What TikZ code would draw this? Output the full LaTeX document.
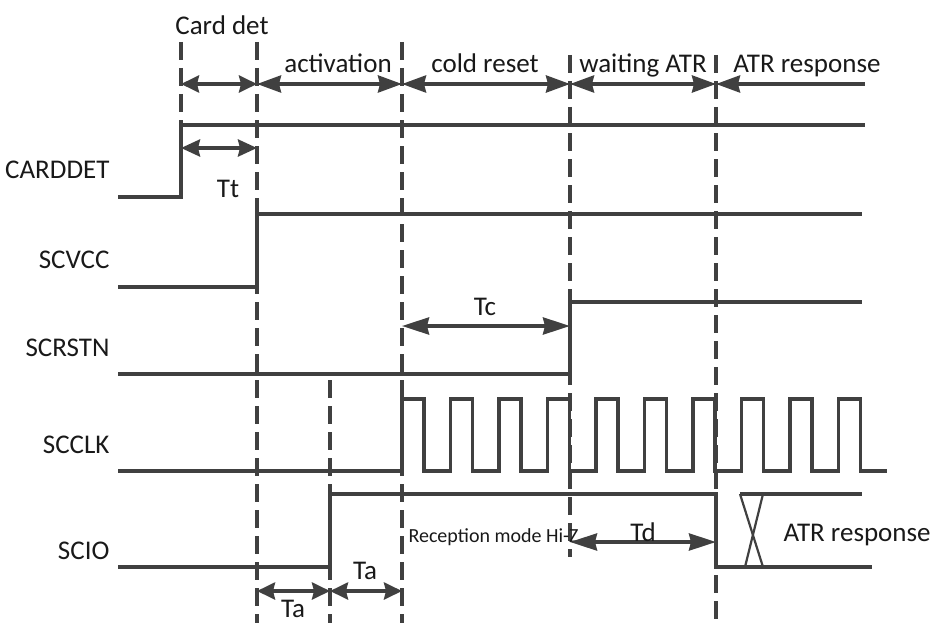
\documentclass[tikz,border=0pt]{standalone}
\usepackage{fontspec}
\setmainfont{Carlito}
\definecolor{wavegray}{RGB}{64, 64, 64}
\definecolor{textdark}{RGB}{25, 25, 25}
\usetikzlibrary{
    arrows.meta,
    positioning,
    calc
}

\tikzset{
    sig/.style={line width=3.6pt, wavegray},
    marker/.style={line width=3.2pt, wavegray, dash pattern=on 18pt off 8pt},
    dimarrow/.style={line width=3.6pt, wavegray,
        {Stealth[length=#1,width=17pt,inset=2pt]}-{Stealth[length=#1,width=17pt,inset=2pt]}},
    dimarrow/.default=22pt,
    leftarrow/.style={line width=3.6pt, wavegray, {Stealth[length=24pt,width=17pt,inset=2pt]}-},
    lbl/.style={font=\fontsize{27}{30}\selectfont, textdark, anchor=base},
    siglbl/.style={lbl, anchor=base east},
    smalllbl/.style={font=\fontsize{20}{22}\selectfont, textdark, anchor=base west}
}

\begin{document}
\begin{tikzpicture}[x=1pt, y=-1pt]
    \useasboundingbox (0,0) rectangle (933,623);

    % Phase markers
    \coordinate (m0) at (181,42);
    \coordinate (m1) at (257,42);
    \coordinate (m2) at (402,42);
    \coordinate (m3) at (570,55);
    \coordinate (m4) at (716,55);
    \coordinate (m5) at (330,380);
    \coordinate (rend) at (865,84);
    \draw[marker] (m0) -- (181,125);
    \draw[marker] (m1) -- (257,623);
    \draw[marker] (m2) -- (402,623);
    \draw[marker] (m3) -- (570,557);
    \draw[marker] (m4) -- (716,623);
    \draw[marker] (m5) -- (330,623);

    % Phases
    \node[lbl] (cardlbl) at (222,35) {Card det};
    \node[lbl] (actlbl) at (338,73) {activation};
    \node[lbl] (resetlbl) at (485,73) {cold reset};
    \node[lbl] (waitlbl) at (643,73) {waiting ATR};
    \node[lbl] (atrlbl) at (807,73) {ATR response};
    \draw[dimarrow=18pt] (m0 |- 0,84) -- (m1 |- 0,84);
    \draw[dimarrow=24pt] (m1 |- 0,84) -- (m2 |- 0,84);
    \draw[dimarrow=24pt] (m2 |- 0,84) -- (m3 |- 0,84);
    \draw[dimarrow=24pt] (m3 |- 0,84) -- (m4 |- 0,84);
    \draw[leftarrow] (m4 |- 0,84) -- (rend);

    % CARDDET
    \node[siglbl] (carddet) at (113,178) {CARDDET};
    \draw[sig] (118,197) -- (181,197) -- (181,125) -- (865,125);
    \draw[dimarrow=19pt] (m0 |- 0,148) -- (m1 |- 0,148);
    \node[lbl] (tt) at (228,197) {Tt};

    % SCVCC
    \node[siglbl] (scvcc) at (113,268) {SCVCC};
    \draw[sig] (118,287) -- (257,287) -- (257,214) -- (862,214);

    % SCRSTN
    \node[siglbl] (scrstn) at (113,356) {SCRSTN};
    \draw[sig] (118,374) -- (570,374) -- (570,302) -- (862,302);
    \draw[dimarrow=27pt] (m2 |- 0,326) -- (m3 |- 0,326);
    \node[lbl] (tc) at (485,315) {Tc};

    % SCCLK
    \node[siglbl] (scclk) at (113,453) {SCCLK};
    \draw[sig] (118,471) foreach \i in {0,...,9} {
        -- ({402+48.5*\i},471) -- ({402+48.5*\i},399)
        -- ({424+48.5*\i},399) -- ({424+48.5*\i},471)
    } -- (887,471);

    % SCIO
    \node[siglbl] (scio) at (113,559) {SCIO};
    \draw[sig] (118,567) -- (330,567) -- (330,494) -- (716,494) -- (716,567) -- (872,567);
    \draw[sig] (740,494) -- (862,494);
    \draw[sig, line width=2.2pt] (740,494) -- (763,567);
    \draw[sig, line width=2.2pt] (763,494) -- (745,567);
    \node[smalllbl] (himode) at (405,542) {Reception mode Hi-Z};
    \draw[dimarrow=27pt] (m3 |- 0,542) -- (m4 |- 0,542);
    \node[lbl] (td) at (643,541) {Td};
    \node[lbl, anchor=base west] (atrresp) at (780,541) {ATR response};

    % Activation delays
    \draw[dimarrow=18pt] (m1 |- 0,591) -- (m5 |- 0,591);
    \draw[dimarrow=18pt] (m5 |- 0,591) -- (m2 |- 0,591);
    \node[lbl] (ta1) at (293,617) {Ta};
    \node[lbl] (ta2) at (365,579) {Ta};
\end{tikzpicture}
\end{document}
